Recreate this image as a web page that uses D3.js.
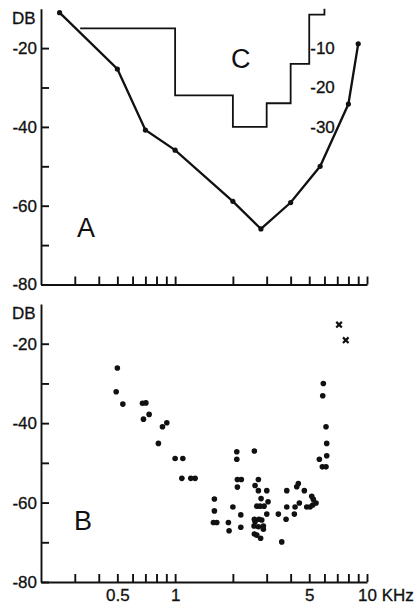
<!DOCTYPE html>
<html>
<head>
<meta charset="utf-8">
<script src="https://cdn.jsdelivr.net/npm/d3@7"></script>
<style>
  body { margin: 0; background: #fff; }
  svg { display: block; font-family: "Liberation Sans", Arial, sans-serif; }
  .axis path, .axis line { stroke: #111; stroke-width: 1.9; }
  .axis text { font-size: 17px; fill: #111; stroke: #111; stroke-width: 0.3; }
  .lbl { fill: #111; stroke: #111; stroke-width: 0.3; }
</style>
</head>
<body>
<div id="chart"></div>
<script>
// Panel A: threshold curve (kHz, dB)
const curveFreq = [0.25, 0.5, 0.7, 1.0, 2.0, 2.8, 4.0, 5.7, 8.0, 9.0];
const curveDb   = [-11, -25.3, -40.8, -45.9, -58.9, -65.9, -59.2, -50, -34.2, -18.9];

// Panel C: staircase, read on its own right-hand scale (step-after)
const stepFreq = [0.32, 1, 2, 3, 4, 5, 6];
const stepDb   = [-5, -22, -30, -24, -14, -1.5, 0];
const stepTicks = [-10, -20, -30];

// Panel B: scattered thresholds
const dotFreq = [0.5, 0.493, 0.534, 0.676, 0.704, 0.684, 0.732, 0.859, 0.905, 0.818,
  1.0, 1.097, 1.084, 1.207, 1.271,
  1.602, 1.602, 1.583, 1.649, 2.0, 1.895, 1.911, 2.096, 2.096, 2.588,
  2.111, 2.214, 2.111, 2.199, 2.199, 2.716, 2.61, 2.716, 3.004, 2.805,
  2.664, 2.771, 2.908, 3.05, 3.004, 2.588, 2.738, 2.61, 2.829, 2.579,
  2.716, 2.884, 2.884, 2.588, 2.664, 2.79,
  3.452, 3.595, 3.818, 3.818, 3.786, 4.217, 4.182, 4.387, 4.304, 4.44,
  4.714, 5.152, 5.252, 4.852, 5.049, 5.214, 5.425,
  5.921, 5.879, 6.115, 6.167, 6.167, 5.645, 5.851, 6.115];
const dotDb = [-26.1, -32.1, -35.2, -35.0, -34.9, -39.0, -37.8, -40.9, -39.9, -45.1,
  -48.9, -48.9, -53.9, -53.9, -53.9,
  -59.1, -62.1, -65.0, -65.0, -61.1, -65.0, -67.1, -47.2, -49.1, -47.0,
  -54.2, -54.2, -56.1, -63.1, -66.2, -54.2, -55.7, -57.0, -57.0, -59.0,
  -60.9, -60.9, -60.9, -59.8, -62.9, -64.2, -64.2, -64.8, -64.4, -65.9,
  -66.1, -65.9, -66.7, -67.9, -68.2, -69.0,
  -62.9, -69.9, -57.0, -61.1, -64.2, -61.1, -62.9, -55.2, -56.0, -60.1,
  -57.0, -58.4, -59.2, -61.1, -61.1, -60.6, -60.1,
  -30.0, -33.1, -40.9, -45.1, -48.2, -49.1, -51.0, -51.0];
const crossFreq = [7.15, 7.75];
const crossDb   = [-15.2, -19.1];

// Axis ticks
const freqTicks = [0.3, 0.4, 0.5, 0.6, 0.7, 0.8, 0.9, 1, 2, 3, 4, 5, 6, 7, 8, 9, 10];
const freqLabels = [0.5, 1, 5];
const dbTicks = [-20, -30, -40, -50, -60, -70, -80];

const W = 414, H = 606;

const svg = d3.select("#chart")
    .append("svg")
    .attr("width", W)
    .attr("height", H);

// Scales
const x = d3.scaleLog().domain([0.2, 10]).range([41, 367]);
const yTop = d3.scaleLinear().domain([-10, -80]).range([8.7, 284.5]);
const yC = d3.scaleLinear().domain([0, -70]).range([8.7, 284.5]);
const yBot = d3.scaleLinear().domain([-10, -80]).range([304, 582]);

function drawAxes(y, axisY, showLabels) {
    svg.append("g")
        .attr("class", "axis")
        .attr("transform", `translate(${x.range()[0]},0)`)
        .call(d3.axisLeft(y)
            .tickValues(dbTicks)
            .tickSize(-8)
            .tickSizeOuter(0)
            .tickPadding(4)
            .tickFormat(d => d % 20 === 0 ? String(d) : ""));

    const xa = svg.append("g")
        .attr("class", "axis")
        .attr("transform", `translate(0,${axisY})`)
        .call(d3.axisBottom(x)
            .tickValues(freqTicks)
            .tickSize(-8)
            .tickSizeOuter(0)
            .tickPadding(7)
            .tickFormat(d => showLabels && freqLabels.includes(d) ? String(d) : ""));

    if (showLabels) {
        xa.append("text")
            .attr("x", x(10) - 9)
            .attr("y", 7)
            .attr("dy", "0.71em")
            .attr("text-anchor", "start")
            .attr("font-size", 16)
            .text("10 KHz");
    }

    svg.append("text")
        .attr("class", "lbl")
        .attr("x", 12)
        .attr("y", y(-10) + 15)
        .attr("font-size", 17)
        .text("DB");
}

// ---- Top panel (A + C)
drawAxes(yTop, yTop(-80), false);

const line = d3.line()
    .x((d, i) => x(curveFreq[i]))
    .y(d => yTop(d));

svg.append("path")
    .datum(curveDb)
    .attr("fill", "none")
    .attr("stroke", "#111")
    .attr("stroke-width", 2.3)
    .attr("d", line);

svg.selectAll("circle.a")
    .data(curveDb)
    .enter()
    .append("circle")
    .attr("class", "a")
    .attr("cx", (d, i) => x(curveFreq[i]))
    .attr("cy", d => yTop(d))
    .attr("r", 2.6)
    .attr("fill", "#111");

const step = d3.line()
    .x((d, i) => x(stepFreq[i]))
    .y(d => yC(d))
    .curve(d3.curveStepAfter);

svg.append("path")
    .datum(stepDb)
    .attr("fill", "none")
    .attr("stroke", "#111")
    .attr("stroke-width", 1.8)
    .attr("d", step);

svg.selectAll("text.c")
    .data(stepTicks)
    .enter()
    .append("text")
    .attr("class", "c lbl")
    .attr("x", x(5) + 1)
    .attr("y", d => yC(d))
    .attr("dy", "0.35em")
    .attr("font-size", 17)
    .text(d => String(d));

svg.append("text")
    .attr("x", 77).attr("y", yTop(-68))
    .attr("font-size", 27).attr("fill", "#111")
    .text("A");

svg.append("text")
    .attr("x", 231).attr("y", yTop(-25))
    .attr("font-size", 27).attr("fill", "#111")
    .text("C");

// ---- Bottom panel (B)
drawAxes(yBot, yBot(-80), true);

svg.selectAll("circle.b")
    .data(dotDb)
    .enter()
    .append("circle")
    .attr("class", "b")
    .attr("cx", (d, i) => x(dotFreq[i]))
    .attr("cy", d => yBot(d))
    .attr("r", 2.8)
    .attr("fill", "#111");

const cross = d3.symbol().type(d3.symbolX).size(22);
svg.selectAll("path.x")
    .data(crossDb)
    .enter()
    .append("path")
    .attr("class", "x")
    .attr("d", cross)
    .attr("transform", (d, i) => `translate(${x(crossFreq[i])},${yBot(d)})`)
    .attr("fill", "none")
    .attr("stroke", "#111")
    .attr("stroke-width", 2.2);

svg.append("text")
    .attr("x", 74).attr("y", yBot(-67))
    .attr("font-size", 27).attr("fill", "#111")
    .text("B");
</script>
</body>
</html>
